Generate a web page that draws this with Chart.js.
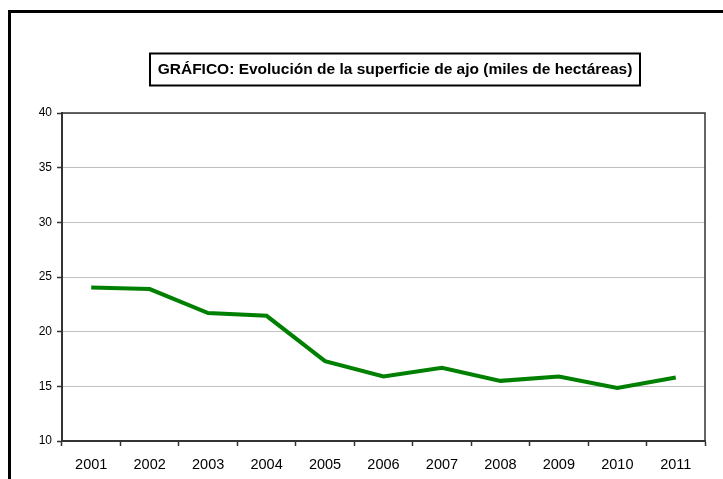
<!DOCTYPE html>
<html>
<head>
<meta charset="utf-8">
<script src="https://cdn.jsdelivr.net/npm/chart.js@4"></script>
<style>
html,body{margin:0;padding:0;background:#fff;}
#wrap{width:723px;height:479px;position:relative;}
</style>
</head>
<body>
<div id="wrap"><canvas id="c" width="723" height="479"></canvas></div>
<script>
const chartTitle = 'GRÁFICO: Evolución de la superficie de ajo (miles de hectáreas)';
const years = ['2001','2002','2003','2004','2005','2006','2007','2008','2009','2010','2011'];
const surface = [24.05, 23.9, 21.7, 21.45, 17.3, 15.9, 16.7, 15.5, 15.9, 14.85, 15.8];
const yTicks = {min: 10, max: 40, step: 5};

const framePlugin = {
  id: 'frame',
  beforeDraw(chart) {
    const ctx = chart.ctx;
    ctx.save();
    ctx.fillStyle = '#fff';
    ctx.fillRect(0, 0, chart.width, chart.height);
    ctx.restore();
  },
  beforeDatasetsDraw(chart) {
    const {ctx, chartArea: a} = chart;
    ctx.save();
    ctx.strokeStyle = '#333';
    ctx.lineWidth = 1.5;
    ctx.beginPath();
    ctx.moveTo(a.left, a.top);
    ctx.lineTo(a.right, a.top);
    ctx.lineTo(a.right, a.bottom);
    ctx.stroke();
    ctx.restore();
  },
  afterDraw(chart) {
    const ctx = chart.ctx;
    ctx.save();
    // outer frame
    ctx.strokeStyle = '#000';
    ctx.lineWidth = 3;
    ctx.strokeRect(9.5, 11.5, 800, 600);
    // title box
    ctx.font = 'bold 15.5px "Liberation Sans", Arial, sans-serif';
    ctx.textAlign = 'center';
    ctx.textBaseline = 'middle';
    ctx.fillStyle = '#000';
    const cx = 395, cy = 70;
    ctx.fillText(chartTitle, cx, cy);
    ctx.lineWidth = 2;
    ctx.strokeRect(150, 53.5, 490, 32);
    ctx.restore();
  }
};

new Chart(document.getElementById('c'), {
  type: 'line',
  data: {
    labels: years,
    datasets: [{
      data: surface,
      borderColor: '#008000',
      borderWidth: 4,
      pointRadius: 0,
      tension: 0,
      fill: false
    }]
  },
  options: {
    responsive: false,
    animation: false,
    devicePixelRatio: 1,
    layout: {padding: {left: 0, top: 113, right: 18, bottom: 0}},
    plugins: {legend: {display: false}, tooltip: {enabled: false}, title: {display: false}},
    scales: {
      x: {
        offset: true,
        grid: {offset: true, drawOnChartArea: false, drawTicks: true, tickLength: 5, tickColor: '#333', tickWidth: 1.5},
        border: {display: true, color: '#333', width: 2},
        ticks: {color: '#000', font: {family: '"Liberation Sans", Arial, sans-serif', size: 14.5}, padding: 10, maxRotation: 0, autoSkip: false},
        afterFit(scale) { scale.height = 38; }
      },
      y: {
        min: yTicks.min, max: yTicks.max,
        grid: {color: '#c0c0c0', lineWidth: 1, drawTicks: true, tickLength: 5, tickColor: '#333', tickWidth: 1.5},
        border: {display: true, color: '#333', width: 2},
        ticks: {stepSize: yTicks.step, color: '#000', font: {family: '"Liberation Sans", Arial, sans-serif', size: 12}, padding: 5},
        afterFit(scale) { scale.width = 62; }
      }
    }
  },
  plugins: [framePlugin]
});
</script>
</body>
</html>
